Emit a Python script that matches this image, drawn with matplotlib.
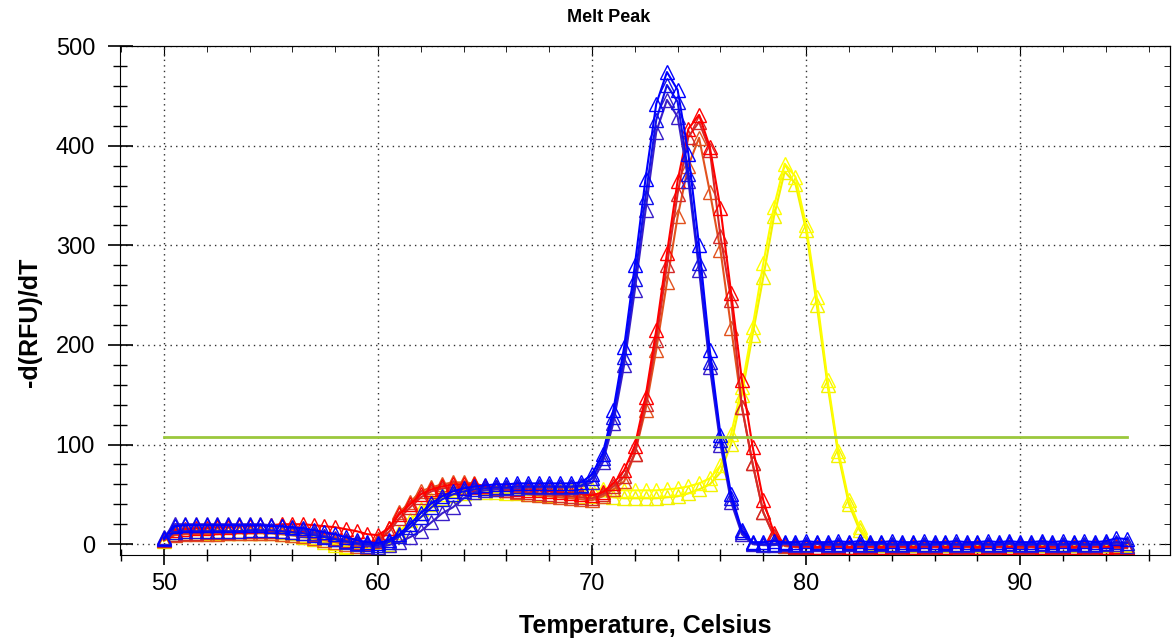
import numpy as np
import matplotlib
matplotlib.use("Agg")
import matplotlib.pyplot as plt
from matplotlib.ticker import MultipleLocator

plt.rcParams['font.family'] = ['Liberation Sans', 'DejaVu Sans']

# temperature grid, 0.5 C steps
temps = np.arange(50.0, 95.5, 0.5)

# melt peak curves, -d(RFU)/dT
blue_1 = (
    [6, 18, 19, 19, 19, 19, 19, 19, 19, 19,
     18, 18, 17, 16, 14, 12, 10, 7, 4, 2,
     1, 4, 10, 20, 31, 41, 48, 53, 56, 58,
     59, 60, 60, 61, 61, 61, 61, 61, 61, 62,
     70, 91, 135, 198, 280, 367, 442, 474, 456, 392,
     300, 195, 110, 50, 14, 2, 2, 3, 2, 2,
     3, 2, 2, 3, 2, 3, 2, 2, 3, 2,
     2, 3, 2, 2, 3, 2, 2, 3, 2, 3,
     2, 2, 3, 2, 3, 2, 3, 2, 3, 6, 5]
)
blue_2 = (
    [5, 12, 13, 13, 13, 13, 13, 13, 14, 14,
     14, 13, 12, 11, 9, 7, 5, 3, 1, 0,
     -1, 2, 8, 17, 27, 37, 45, 50, 53, 55,
     56, 57, 57, 58, 58, 58, 58, 58, 58, 59,
     66, 86, 128, 188, 266, 349, 426, 461, 444, 372,
     282, 183, 105, 46, 12, 1, 0, 0, 1, 0,
     0, 1, 0, 0, 1, 0, 0, 1, 0, 0,
     1, 0, 0, 1, 0, 0, 1, 0, 0, 1,
     0, 0, 1, 0, 0, 1, 0, 0, 1, 2, 1]
)
blue_3 = (
    [7, 20, 20, 20, 20, 20, 20, 20, 20, 20,
     19, 18, 16, 14, 11, 8, 5, 2, 0, -2,
     -3, -1, 2, 7, 13, 22, 31, 37, 46, 52,
     54, 55, 56, 56, 57, 57, 57, 57, 57, 58,
     62, 82, 122, 180, 255, 335, 414, 446, 429, 365,
     275, 178, 100, 42, 10, 0, -1, -1, 0, -1,
     -1, 0, -1, -1, 0, -1, -1, 0, -1, -1,
     0, -1, -1, 0, -1, -1, 0, -1, -1, 0,
     -1, -1, 0, -1, -1, 0, -1, -1, 0, 0, -2]
)
red_1 = (
    [5, 14, 15, 16, 16, 17, 17, 18, 18, 19,
     19, 20, 20, 20, 19, 18, 17, 15, 13, 10,
     9, 16, 30, 40, 50, 55, 58, 60, 60, 60,
     58, 57, 56, 55, 54, 54, 53, 52, 51, 50,
     49, 52, 61, 74, 99, 148, 215, 292, 365, 417,
     431, 399, 337, 252, 165, 98, 44, 11, 0, -2,
     -2, -3, -2, -2, -3, -2, -2, -3, -2, -2,
     -3, -2, -2, -3, -2, -2, -3, -2, -2, -3,
     -2, -2, -3, -2, -2, -3, -2, -2, -3, -2, -3]
)
red_2 = (
    [4, 10, 11, 11, 12, 12, 12, 13, 13, 13,
     13, 13, 12, 11, 10, 8, 6, 4, 2, 1,
     3, 12, 26, 37, 47, 53, 56, 57, 57, 57,
     56, 55, 54, 53, 52, 51, 50, 49, 48, 47,
     46, 50, 58, 68, 91, 141, 205, 280, 352, 409,
     424, 396, 309, 245, 138, 81, 32, 8, -1, -3,
     -3, -4, -3, -3, -4, -3, -3, -4, -3, -3,
     -4, -3, -3, -4, -3, -3, -4, -3, -3, -4,
     -3, -3, -4, -3, -3, -4, -3, -3, -4, -3, -4]
)
red_3 = (
    [4, 9, 10, 10, 10, 10, 11, 11, 11, 11,
     11, 10, 9, 8, 6, 4, 2, 0, -2, -3,
     5, 16, 32, 42, 53, 57, 60, 62, 62, 61,
     58, 56, 54, 52, 50, 49, 48, 47, 46, 45,
     44, 48, 55, 63, 91, 135, 195, 263, 329, 380,
     408, 354, 295, 217, 138, 81, 32, 8, -2, -3,
     -3, -3, -4, -3, -3, -4, -3, -3, -4, -3,
     -3, -4, -3, -3, -4, -3, -3, -4, -3, -3,
     -4, -3, -3, -4, -3, -3, -4, -3, -3, -4, -3]
)
yellow_1 = (
    [4, 12, 13, 13, 13, 13, 13, 13, 13, 13,
     13, 12, 11, 9, 7, 4, 1, -2, -4, -5,
     -4, 2, 12, 24, 35, 44, 50, 54, 56, 57,
     57, 57, 57, 56, 56, 55, 55, 54, 54, 54,
     55, 55, 55, 54, 54, 54, 54, 55, 56, 58,
     61, 66, 79, 111, 158, 218, 282, 339, 382, 369,
     320, 248, 165, 94, 44, 17, 1, 0, 0, 0,
     0, 0, 0, 0, 0, 0, 0, 0, 0, 0,
     0, 0, 0, 0, 0, 0, 0, 0, 0, 0, 0]
)
yellow_2 = (
    [3, 10, 11, 11, 11, 11, 11, 11, 11, 11,
     11, 10, 9, 7, 5, 2, -1, -3, -5, -6,
     -5, 0, 9, 20, 31, 40, 46, 49, 51, 52,
     52, 52, 51, 51, 50, 50, 49, 49, 48, 48,
     48, 48, 47, 46, 46, 46, 46, 47, 48, 51,
     55, 60, 72, 101, 150, 210, 268, 329, 374, 362,
     315, 240, 160, 90, 40, 14, 0, -1, -1, -1,
     -1, -1, -1, -1, -1, -1, -1, -1, -1, -1,
     -1, -1, -1, -1, -1, -1, -1, -1, -1, -1, -1]
)

series = [
    (yellow_2, '#F2F200'), (yellow_1, '#FFFF00'),
    (red_3, '#E2521E'), (red_2, '#D42A2A'), (red_1, '#FF0000'),
    (blue_3, '#3A1FC8'), (blue_2, '#1010E8'), (blue_1, '#0000FF'),
]
threshold = 108

fig = plt.figure(figsize=(11.72, 6.41), dpi=100)
ax = fig.add_axes([0.1024, 0.134, 0.8959, 0.794])

for vals, col in series:
    assert len(vals) == len(temps)
    ax.plot(temps, vals, color=col, lw=1.5, marker='^', ms=10.5,
            mfc='none', mec=col, mew=1.0)

ax.plot([temps[0], temps[-1]], [threshold, threshold], color='#9BC83C', lw=2)

ax.set_xlim(47.95, 97.0)
ax.set_ylim(-11, 500)

ax.xaxis.set_major_locator(MultipleLocator(10))
ax.xaxis.set_minor_locator(MultipleLocator(2))
ax.yaxis.set_major_locator(MultipleLocator(100))
ax.yaxis.set_minor_locator(MultipleLocator(20))
ax.tick_params(axis='x', which='major', direction='inout', length=14, width=1.2,
               labelsize=17, pad=6)
ax.tick_params(axis='x', which='minor', direction='inout', length=9, width=1.0)
ax.tick_params(axis='y', which='major', direction='inout', length=18, width=1.2,
               labelsize=17, pad=9)
ax.tick_params(axis='y', which='minor', direction='inout', length=10, width=1.0)

# ticks on the top and right borders, pointing inwards
top = ax.secondary_xaxis('top')
top.xaxis.set_major_locator(MultipleLocator(10))
top.xaxis.set_minor_locator(MultipleLocator(2))
top.tick_params(which='both', direction='in', labeltop=False)
top.tick_params(which='major', length=7)
top.tick_params(which='minor', length=4)
right = ax.secondary_yaxis('right')
right.yaxis.set_major_locator(MultipleLocator(100))
right.yaxis.set_minor_locator(MultipleLocator(20))
right.tick_params(which='both', direction='in', labelright=False)
right.tick_params(which='major', length=7)
right.tick_params(which='minor', length=4)

ax.grid(True, which='major', color='#303030', linestyle=(0, (1, 3)), lw=1)
ax.set_axisbelow(True)

ax.set_xlabel('Temperature, Celsius', fontsize=18, fontweight='bold')
ax.set_ylabel('-d(RFU)/dT', fontsize=18, fontweight='bold')
ax.xaxis.set_label_coords(0.5, -0.116)
ax.yaxis.set_label_coords(-0.074, 0.458)
fig.text(0.519, 0.972, 'Melt Peak', fontsize=13, fontweight='bold',
         ha='center', va='center')

fig.savefig('out.png', dpi=100)
